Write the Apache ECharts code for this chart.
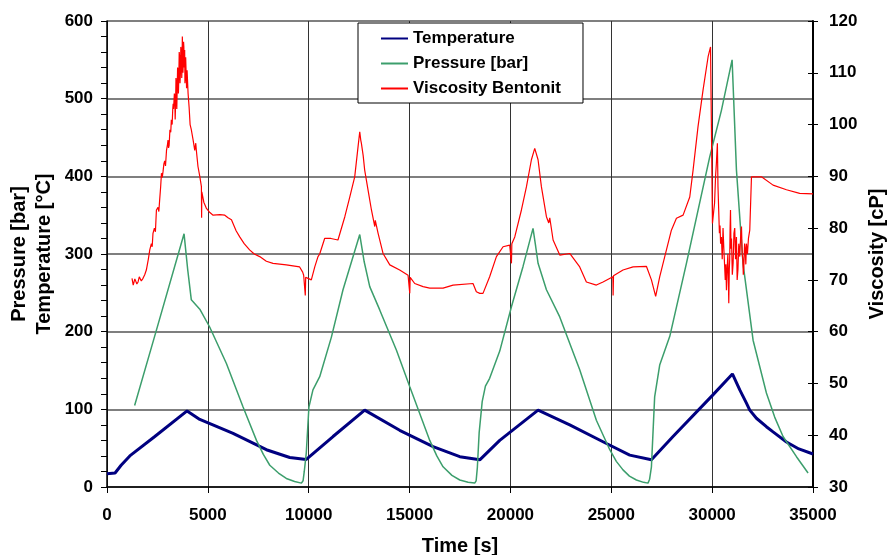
<!DOCTYPE html>
<html>
<head>
<meta charset="utf-8">
<script src="https://cdn.jsdelivr.net/npm/echarts@6/dist/echarts.min.js"></script>
<style>html,body{margin:0;padding:0;background:#fff}#c{width:889px;height:555px}</style>
</head>
<body>
<div id="c"></div>
<script>
// ---- data ----
var xTicks = [0, 5000, 10000, 15000, 20000, 25000, 30000, 35000];
var leftTicks = [0, 100, 200, 300, 400, 500, 600];
var rightTicks = [30, 40, 50, 60, 70, 80, 90, 100, 110, 120];

var tempTime = [0, 400, 700, 1130, 2370, 3970, 4600, 6250, 7900, 9060, 9880, 11205, 12775, 14510, 16165, 17490, 18480, 19470, 21370, 22940, 24760, 25915, 26990, 28060, 30015, 31005, 31370, 31700, 31865, 32195, 32690, 33020, 33685, 34300, 35000];
var tempVal  = [17, 18, 28, 40, 65, 98, 87, 69, 48, 38, 35.5, 65, 99, 73, 52, 39, 35, 60, 99, 80, 56, 41, 35, 65, 118, 145.5, 125, 108, 99, 88.5, 77.6, 71, 58, 49, 42.5];

var presTime = [1370, 2450, 3820, 4000, 4180, 4600, 5090, 5920, 6745, 7410, 7750, 8070, 8500, 8890, 9300, 9640, 9720, 9780, 9880, 10010, 10210, 10545, 11125, 11700, 12530, 12750, 13025, 13520, 14350, 15010, 16000, 16350, 16660, 17100, 17490, 17900, 18230, 18300, 18360, 18450, 18600, 18760, 18970, 19470, 20050, 20625, 21120, 21250, 21370, 21785, 22445, 23435, 24260, 24925, 25250, 25580, 25900, 26245, 26600, 26820, 26900, 26990, 27150, 27400, 27900, 28725, 29880, 30460, 30990, 31205, 31530, 32030, 32690, 33100, 33515, 34180, 34755];
var presVal  = [105, 202, 326, 280, 241, 229, 206, 159, 103, 60, 42, 28, 18, 11, 7, 5, 8, 20, 44, 103, 125, 142, 193, 254, 325, 290, 258, 228, 176, 129, 60, 40, 26, 15, 9, 6, 5, 8, 25, 70, 110, 130, 140, 175, 232, 284, 333, 310, 288, 254, 219, 151, 86, 48, 33, 22, 14, 9, 6, 5, 10, 26, 116, 157, 194, 288, 425, 485, 550, 408, 288, 189, 121, 90, 65, 39, 18];

// viscosity [time s, cP]
var viscCycle1 = [[1240,70.3],[1300,69.0],[1340,68.9],[1380,70.2],[1420,70.0],[1480,69.2],[1540,69.6],[1600,70.6],[1650,70.4],[1700,69.8],[1785,70.3],[1870,71],[1950,71.9],[2050,74],[2120,75.8],[2200,77],[2240,76.4],[2280,79],[2350,80],[2400,79.3],[2450,83.5],[2530,84],[2570,83.2],[2610,85.4],[2660,88],[2700,90.6],[2740,89.8],[2780,91],[2820,92.4],[2860,93],[2900,92],[2950,95],[3000,96.2],[3025,97],[3050,95.5],[3080,96],[3120,99],[3160,98.5],[3190,100.9],[3230,100],[3260,103],[3280,104],[3300,103],[3340,106],[3360,105.4],[3380,101],[3400,104],[3420,109],[3440,108],[3460,103],[3480,107],[3500,111],[3520,110.5],[3540,106],[3560,109],[3580,114],[3600,113],[3620,108],[3640,110],[3660,115],[3690,113.8],[3705,109],[3720,111],[3735,117],[3750,116.7],[3765,110],[3780,112],[3795,116],[3810,115],[3830,111],[3850,114.4],[3865,108],[3880,109],[3900,113],[3920,113],[3945,107],[3970,110.5],[4020,106],[4070,103.4],[4120,100],[4180,99],[4270,97],[4350,95],[4400,96.4],[4430,95],[4510,91.9],[4600,90],[4680,88],[4690,82],[4700,87],[4800,85],[4930,83.8],[5100,83],[5260,82.5],[5600,82.6],[5840,82.5],[6000,82],[6170,81.6],[6400,79.5],[6580,78.3],[6800,77],[7070,75.8],[7300,75],[7570,74.5],[7900,73.6],[8230,73.2],[8890,72.9],[9550,72.5],[9700,71.5],[9750,70.9],[9830,67],[9850,70.5],[9965,70.3]];
var viscCycle2 = [[10130,70],[10300,72.5],[10460,74.5],[10545,75],[10790,78],[11100,78],[11450,77.7],[11540,77.7],[11790,82.2],[12035,86],[12280,89.9],[12445,95.7],[12530,98.6],[12580,97],[12610,96.4],[12700,94],[12775,91.2],[12940,87.4],[13110,83.5],[13275,80.3],[13300,81.5],[13440,79],[13685,75.1],[14020,72.9],[14510,71.9],[14925,70.9],[15010,67.4],[15030,70.5],[15255,69.3],[15670,68.7],[16000,68.4],[16660,68.4],[17155,69],[18145,69.3]];
var viscCycle3 = [[18310,67.7],[18480,67.4],[18640,67.4],[18725,67.7],[18970,70.6],[19305,74.5],[19635,76.4],[19965,76.7],[20030,76.5],[20050,73.2],[20070,77],[20215,78.3],[20545,83.5],[20795,88],[21040,93.2],[21205,95.4],[21370,93.2],[21535,88],[21785,82.2],[21900,81],[21950,82],[22115,77.7],[22445,74.8],[22940,75.1],[23435,72.5],[23765,69.6],[24260,69],[24590,69.6],[25080,70.6],[25090,67],[25110,70.8],[25580,71.9],[26080,72.5],[26745,72.6]];
var viscCycle4 = [[26990,70],[27200,66.8],[27400,70.6],[27650,74.5],[27980,79.6],[28230,81.9],[28560,82.5],[28890,86],[29055,91.2],[29300,99.6],[29550,106.7],[29800,113.1],[29920,115],[29965,99],[30015,80.9],[30070,83],[30120,84.8],[30170,90],[30210,92.5],[30260,96.4],[30290,88],[30325,83.5],[30360,79],[30390,80.5],[30420,77],[30460,78.3],[30500,74],[30540,80],[30580,76],[30620,75.8],[30650,70],[30680,73],[30710,68],[30740,71.9],[30780,75],[30825,65.5],[30850,72],[30870,74],[30890,80],[30910,83.5],[30935,76],[30960,78],[31000,71],[31040,73.2],[31080,79],[31120,80],[31160,74],[31205,78.3],[31240,70],[31280,72],[31320,77],[31370,74.5],[31420,79],[31455,80.3],[31490,75],[31520,74],[31545,71],[31570,72.5],[31610,77],[31640,76],[31670,73],[31700,77],[31750,75],[31800,78],[31865,79.6],[31950,89.9],[32445,89.9],[33020,88.3],[33685,87.4],[34340,86.7],[35000,86.6]];

function zip(a, b) { return a.map(function (v, i) { return [v, b[i]]; }); }
function plain(v) { return String(v); }

var FONT = "'Liberation Sans', Arial, sans-serif";
var chart = echarts.init(document.getElementById('c'), null, { renderer: 'canvas' });
chart.setOption({
  animation: false,
  backgroundColor: '#fff',
  grid: { left: 107, right: 76, top: 21, bottom: 68, containLabel: false, outerBoundsMode: 'none' },
  legend: {
    orient: 'vertical', left: 358, top: 23,
    backgroundColor: '#fff', borderColor: '#000', borderWidth: 1,
    padding: [7, 22, 6, 22], itemWidth: 27, itemHeight: 17, itemGap: 8,
    itemStyle: { opacity: 0 },
    textStyle: { fontFamily: FONT, fontWeight: 'bold', fontSize: 17, color: '#000' },
    data: ['Temperature', 'Pressure [bar]', 'Viscosity Bentonit']
  },
  xAxis: {
    type: 'value', min: xTicks[0], max: xTicks[xTicks.length - 1], interval: 5000,
    name: 'Time [s]', nameLocation: 'middle', nameGap: 49, nameMoveOverlap: false,
    nameTextStyle: { fontFamily: FONT, fontWeight: 'bold', fontSize: 20, color: '#000' },
    axisLine: { show: true, lineStyle: { color: '#000', width: 1.5 } },
    axisTick: { show: true, inside: false, length: 6, lineStyle: { color: '#000' } },
    axisLabel: { margin: 20, formatter: plain, fontFamily: FONT, fontWeight: 'bold', fontSize: 17, color: '#000' },
    splitLine: { show: true, lineStyle: { color: '#333', width: 1 } }
  },
  yAxis: [{
    type: 'value', min: leftTicks[0], max: leftTicks[leftTicks.length - 1], interval: 100,
    name: 'Pressure [bar]\nTemperature [°C]', nameLocation: 'middle', nameGap: 50, nameRotate: 90, nameMoveOverlap: false,
    nameTextStyle: { fontFamily: FONT, fontWeight: 'bold', fontSize: 20, color: '#000', lineHeight: 25 },
    axisLine: { show: true, lineStyle: { color: '#000', width: 1.5 } },
    axisTick: { show: true, inside: false, length: 6, lineStyle: { color: '#000' } },
    minorTick: { show: true, splitNumber: 5, length: 6, lineStyle: { color: '#000' } },
    axisLabel: { margin: 14, formatter: plain, fontFamily: FONT, fontWeight: 'bold', fontSize: 17, color: '#000' },
    splitLine: { show: true, lineStyle: { color: '#555', width: 1.5 } }
  }, {
    type: 'value', position: 'right', min: rightTicks[0], max: rightTicks[rightTicks.length - 1], interval: 10,
    name: 'Viscosity [cP]', nameLocation: 'middle', nameGap: 54, nameRotate: 90, nameMoveOverlap: false,
    nameTextStyle: { fontFamily: FONT, fontWeight: 'bold', fontSize: 20, color: '#000' },
    axisLine: { show: true, lineStyle: { color: '#000', width: 2 } },
    axisTick: { show: true, inside: false, length: 5, lineStyle: { color: '#000' } },
    axisLabel: { margin: 16, formatter: plain, fontFamily: FONT, fontWeight: 'bold', fontSize: 17, color: '#000' },
    splitLine: { show: false }
  }, {
    type: 'value', position: 'right', min: rightTicks[0], max: rightTicks[rightTicks.length - 1], interval: 10,
    axisLine: { show: false },
    axisTick: { show: true, inside: true, length: 5, lineStyle: { color: '#000' } },
    axisLabel: { show: false },
    splitLine: { show: false }
  }],
  series: [{
    name: 'Temperature', type: 'line', yAxisIndex: 0, symbol: 'none', smooth: false,
    lineStyle: { color: '#000080', width: 3 }, itemStyle: { color: '#000080' },
    data: zip(tempTime, tempVal)
  }, {
    name: 'Pressure [bar]', type: 'line', yAxisIndex: 0, symbol: 'none', smooth: false,
    lineStyle: { color: '#3c9e6c', width: 1.5 }, itemStyle: { color: '#3c9e6c' },
    data: zip(presTime, presVal)
  }, {
    name: 'Viscosity Bentonit', type: 'line', yAxisIndex: 1, symbol: 'none', smooth: false,
    lineStyle: { color: '#ff0000', width: 1.2 }, itemStyle: { color: '#ff0000' },
    data: viscCycle1.concat(viscCycle2, viscCycle3, viscCycle4)
  }]
});
</script>
</body>
</html>
